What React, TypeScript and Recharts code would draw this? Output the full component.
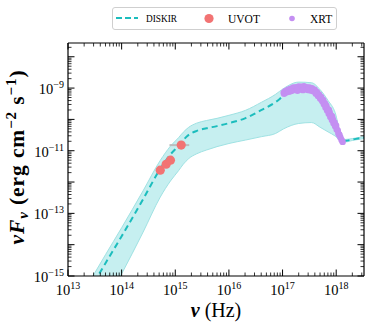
import React from 'react';
import { ComposedChart, Area, Line, Scatter, XAxis, YAxis, ErrorBar } from 'recharts';

// ---------- data ----------
const modelNu = [2.0e13, 5.0e13, 1.0e14, 2.51e14, 5.25e14, 8.13e14, 1.15e15, 1.41e15, 1.78e15, 2.51e15, 3.8e15, 6.0e15, 1.0e16, 2.04e16, 4.07e16, 7.41e16, 1.05e17, 2.0e17, 3.47e17, 5.01e17, 7.08e17, 9.55e17, 1.23e18, 1.48e18, 2.04e18, 3.3e18];
const modelFlux = [1.78e-16, 2.57e-15, 1.86e-14, 2.82e-13, 2.63e-12, 7.6e-12, 1.45e-11, 2.2e-11, 3.2e-11, 4.3e-11, 5.2e-11, 6.1e-11, 7.59e-11, 1.10e-10, 2.0e-10, 3.55e-10, 5.62e-10, 9.33e-10, 8.91e-10, 5.01e-10, 2.0e-10, 6.61e-11, 2.51e-11, 2.09e-11, 2.29e-11, 2.63e-11];
const bandHigh = [3.31e-16, 4.79e-15, 3.47e-14, 5.25e-13, 4.9e-12, 1.4e-11, 2.6e-11, 3.9e-11, 5.6e-11, 7.6e-11, 9.2e-11, 1.08e-10, 1.35e-10, 1.95e-10, 3.55e-10, 6.31e-10, 9.77e-10, 1.55e-9, 1.48e-9, 8.91e-10, 3.98e-10, 1.66e-10, 3.16e-11, 2.29e-11, 2.45e-11, 2.82e-11];
const bandLow = [8.9e-18, 1.29e-16, 1.17e-15, 2.51e-14, 3.31e-13, 1.08e-12, 2.3e-12, 3.7e-12, 5.6e-12, 8.0e-12, 1.05e-11, 1.35e-11, 1.70e-11, 2.19e-11, 2.82e-11, 3.55e-11, 5.01e-11, 7.41e-11, 7.94e-11, 5.62e-11, 3.98e-11, 2.95e-11, 2.0e-11, 1.91e-11, 2.14e-11, 2.45e-11];

const uvotNu = [5.25e14, 6.76e14, 8.13e14, 1.29e15];
const uvotFlux = [2.4e-12, 3.7e-12, 5.0e-12, 1.51e-11];
const uvotNuErrLow = [0, 0, 0, 5.1e14];
const uvotNuErrHigh = [0, 0, 0, 5.3e14];

const xrtNu = [1.05e17, 1.07e17, 1.12e17, 1.17e17, 1.22e17, 1.26e17, 1.32e17, 1.41e17, 1.48e17, 1.58e17, 1.66e17, 1.78e17, 1.86e17, 2.0e17, 2.09e17, 2.24e17, 2.34e17, 2.51e17, 2.63e17, 2.82e17, 2.95e17, 3.16e17, 3.31e17, 3.55e17, 3.72e17, 3.98e17, 4.17e17, 4.37e17, 4.57e17, 4.79e17, 5.01e17, 5.25e17, 5.5e17, 5.75e17, 5.89e17, 6.17e17, 6.31e17, 6.61e17, 6.76e17, 7.08e17, 7.24e17, 7.59e17, 7.76e17, 8.13e17, 8.32e17, 8.71e17, 8.91e17, 9.33e17, 9.55e17, 1.0e18, 1.02e18, 1.07e18, 1.1e18, 1.15e18, 1.2e18, 1.26e18, 1.32e18, 1.45e17, 1.9e17, 2.4e17, 3.0e17, 3.6e17, 4.2e17, 5.3e17, 6.4e17, 7.3e17, 8.4e17, 9.6e17, 1.13e18];
const xrtFlux = [7.1e-10, 6.61e-10, 7.94e-10, 7.24e-10, 8.3e-10, 8.91e-10, 7.59e-10, 9.55e-10, 8.32e-10, 1.05e-9, 8.71e-10, 1.07e-9, 9.12e-10, 1.12e-9, 9.33e-10, 1.10e-9, 8.91e-10, 1.15e-9, 9.55e-10, 1.07e-9, 8.71e-10, 1.05e-9, 8.32e-10, 1.0e-9, 7.94e-10, 8.91e-10, 6.61e-10, 7.59e-10, 5.62e-10, 6.31e-10, 4.68e-10, 5.25e-10, 3.80e-10, 4.17e-10, 3.02e-10, 3.31e-10, 2.40e-10, 2.63e-10, 1.91e-10, 2.09e-10, 1.51e-10, 1.66e-10, 1.20e-10, 1.32e-10, 9.55e-11, 1.0e-10, 7.59e-11, 7.94e-11, 6.03e-11, 6.31e-11, 4.79e-11, 4.47e-11, 3.55e-11, 3.16e-11, 2.63e-11, 2.19e-11, 1.91e-11, 8.0e-10, 8.2e-10, 8.6e-10, 9.0e-10, 8.5e-10, 7.0e-10, 4.3e-10, 2.9e-10, 2.0e-10, 1.25e-10, 6.8e-11, 3.3e-11];

const xDecades = [13, 14, 15, 16, 17, 18];
const yDecades = [-15, -14, -13, -12, -11, -10, -9, -8];
const yLabeledDecades = [-15, -13, -11, -9];
const minorMultipliers = [2, 3, 4, 5, 6, 7, 8, 9];
const legendLabels = ['DISKIR', 'UVOT', 'XRT'];

const X_MIN = 1e13, X_MAX = 3.3e18, Y_MIN = 1e-15, Y_MAX = 2.75e-8;

// ---------- styles ----------
const FONT = '"Liberation Serif", "DejaVu Serif", serif';
const TEAL = '#1cbdbd';
const BAND_FILL = '#c6eff0';
const BAND_EDGE = '#9fe2e3';
const RED = '#f27373';
const PURPLE = '#c48ff2';

const modelData = modelNu.map((nu, i) => ({ nu, flux: modelFlux[i], band: [bandLow[i], bandHigh[i]] }));
const uvotData = uvotNu.map((nu, i) => ({ nu, flux: uvotFlux[i], xerr: [uvotNuErrLow[i], uvotNuErrHigh[i]] }));
const xrtData = xrtNu.map((nu, i) => ({ nu, flux: xrtFlux[i] }));

const buildTicks = (decades: number[], min: number, max: number) => {
  const out: number[] = [];
  decades.forEach((d) => {
    out.push(Math.pow(10, d));
    minorMultipliers.forEach((m) => out.push(m * Math.pow(10, d)));
  });
  return out.filter((v) => v >= min * 0.999 && v <= max * 1.001).sort((a, b) => a - b);
};
const xTicks = buildTicks(xDecades, X_MIN, X_MAX);
const yTicks = buildTicks(yDecades, Y_MIN, Y_MAX);

const makeTick = (side: string) => (props: any) => {
  const { x, y, payload } = props;
  const v = payload.value as number;
  const lg = Math.log10(v);
  const e = Math.round(lg);
  const major = Math.abs(lg - e) < 1e-6;
  const len = major ? 6.5 : 3.5;
  const sw = major ? 1 : 0.8;
  let line: any = null;
  if (side === 'bottom') line = <line x1={x} y1={y} x2={x} y2={y - len} stroke="#000" strokeWidth={sw} />;
  if (side === 'top') line = <line x1={x} y1={y} x2={x} y2={y + len} stroke="#000" strokeWidth={sw} />;
  if (side === 'left') line = <line x1={x} y1={y} x2={x + len} y2={y} stroke="#000" strokeWidth={sw} />;
  if (side === 'right') line = <line x1={x} y1={y} x2={x - len} y2={y} stroke="#000" strokeWidth={sw} />;
  let label: any = null;
  if (side === 'bottom' && major) {
    label = (
      <text x={x} y={y + 19} textAnchor="middle" fontFamily={FONT} fontSize={14.5} fill="#000">
        10<tspan dy={-6} fontSize={10}>{String(e)}</tspan>
      </text>
    );
  }
  if (side === 'left' && major && yLabeledDecades.includes(e)) {
    label = (
      <text x={x - 4} y={y + 6} textAnchor="end" fontFamily={FONT} fontSize={14.5} fill="#000">
        10<tspan dy={-6} fontSize={10}>{'\u2212' + Math.abs(e)}</tspan>
      </text>
    );
  }
  return (
    <g>
      {line}
      {label}
    </g>
  );
};

const redDot = (p: any) => <circle cx={p.cx} cy={p.cy} r={4.6} fill={RED} />;
const purpleDot = (p: any) => <circle cx={p.cx} cy={p.cy} r={3.2} fill={PURPLE} />;

const axisLine = { stroke: '#000', strokeWidth: 1.2 };

export default function App() {
  return (
    <div style={{ position: 'absolute', left: 0, top: 0, width: 373, height: 332, background: '#fff' }}>
      <ComposedChart width={373} height={332} margin={{ top: 0, right: 0, bottom: 0, left: 0 }}>
        <XAxis
          xAxisId={0}
          type="number"
          dataKey="nu"
          scale="log"
          domain={[X_MIN, X_MAX]}
          allowDataOverflow
          ticks={xTicks}
          interval={0}
          tickSize={0}
          tickMargin={0}
          tickLine={false}
          tick={makeTick('bottom')}
          axisLine={axisLine}
          height={56}
        />
        <XAxis
          xAxisId="top"
          orientation="top"
          type="number"
          dataKey="nu"
          scale="log"
          domain={[X_MIN, X_MAX]}
          allowDataOverflow
          ticks={xTicks}
          interval={0}
          tickSize={0}
          tickMargin={0}
          tickLine={false}
          tick={makeTick('top')}
          axisLine={axisLine}
          height={43}
        />
        <YAxis
          yAxisId={0}
          type="number"
          dataKey="flux"
          scale="log"
          domain={[Y_MIN, Y_MAX]}
          allowDataOverflow
          ticks={yTicks}
          interval={0}
          tickSize={0}
          tickMargin={0}
          tickLine={false}
          tick={makeTick('left')}
          axisLine={axisLine}
          width={68}
        />
        <YAxis
          yAxisId="right"
          orientation="right"
          type="number"
          dataKey="flux"
          scale="log"
          domain={[Y_MIN, Y_MAX]}
          allowDataOverflow
          ticks={yTicks}
          interval={0}
          tickSize={0}
          tickMargin={0}
          tickLine={false}
          tick={makeTick('right')}
          axisLine={axisLine}
          width={9}
        />
        <Area
          data={modelData}
          dataKey="band"
          type="monotone"
          fill={BAND_FILL}
          fillOpacity={1}
          stroke={BAND_EDGE}
          strokeWidth={1}
          dot={false}
          activeDot={false}
          isAnimationActive={false}
        />
        <Line
          data={modelData}
          dataKey="flux"
          type="monotone"
          stroke={TEAL}
          strokeWidth={2}
          strokeDasharray="6 4"
          dot={false}
          activeDot={false}
          isAnimationActive={false}
        />
        <Scatter data={uvotData} dataKey="flux" shape={redDot} isAnimationActive={false}>
          <ErrorBar dataKey="xerr" direction="x" width={0} stroke="#bdbdbd" strokeWidth={2} />
        </Scatter>
        <Scatter data={xrtData} dataKey="flux" shape={purpleDot} isAnimationActive={false} />
      </ComposedChart>

      <svg width={373} height={332} style={{ position: 'absolute', left: 0, top: 0, pointerEvents: 'none' }}>
        <text transform="translate(24,157) rotate(-90)" textAnchor="middle" fontFamily={FONT} fontSize={21.5} fontWeight="bold" letterSpacing={0.9} fill="#000">
          <tspan fontStyle="italic">{'\u03bdF'}</tspan>
          <tspan fontStyle="italic" fontSize={15} dy={4}>{'\u03bd'}</tspan>
          <tspan dy={-4}>{' (erg cm'}</tspan>
          <tspan fontSize={15} dy={-8}>{'\u22122'}</tspan>
          <tspan dy={8}>{' s'}</tspan>
          <tspan fontSize={15} dy={-8}>{'\u22121'}</tspan>
          <tspan dy={8}>{')'}</tspan>
        </text>
        <text x={216} y={317} textAnchor="middle" fontFamily={FONT} fontSize={20} fill="#000">
          <tspan fontStyle="italic" fontWeight="bold">{'\u03bd'}</tspan>
          <tspan>{' (Hz)'}</tspan>
        </text>
      </svg>

      <div
        style={{
          position: 'absolute',
          left: 112,
          top: 7,
          width: 225,
          height: 23,
          border: '1px solid #cfcfcf',
          borderRadius: 3,
          background: '#fff',
          boxSizing: 'border-box',
        }}
      >
        <svg width={223} height={21} style={{ display: 'block' }}>
          <line x1={3} y1={10} x2={25} y2={10} stroke={TEAL} strokeWidth={2} strokeDasharray="6 3" />
          <text x={33} y={14} fontFamily={FONT} fontSize={9.3} fill="#000">{legendLabels[0]}</text>
          <circle cx={96} cy={10.5} r={4.6} fill={RED} />
          <text x={115} y={15} fontFamily={FONT} fontSize={11.5} fill="#000">{legendLabels[1]}</text>
          <circle cx={179} cy={10.5} r={2.8} fill={PURPLE} />
          <text x={197} y={15} fontFamily={FONT} fontSize={11.5} fill="#000">{legendLabels[2]}</text>
        </svg>
      </div>
    </div>
  );
}
